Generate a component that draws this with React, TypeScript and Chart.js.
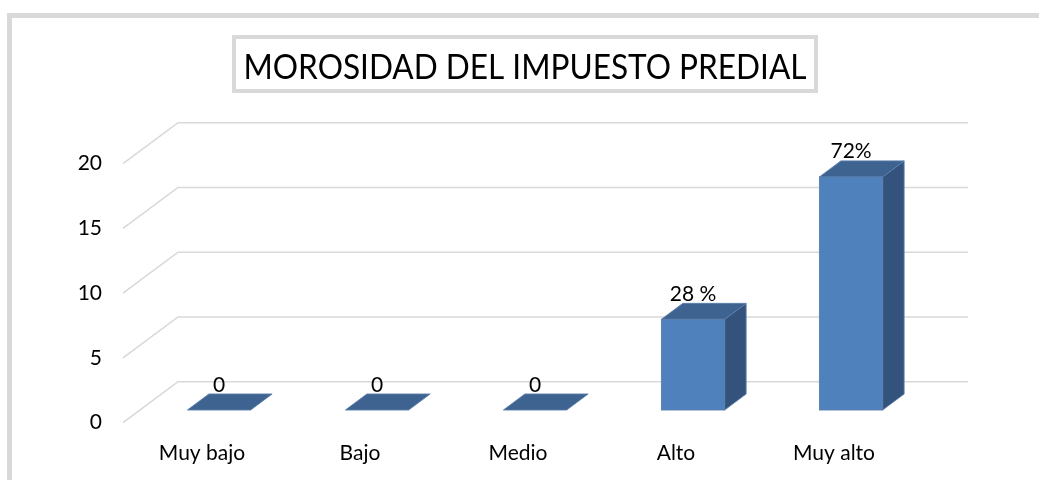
import React, { useEffect, useRef } from "react";
import { Chart, registerables } from "chart.js";
Chart.register(...registerables);

const CATEGORIES = ["Muy bajo", "Bajo", "Medio", "Alto", "Muy alto"];
const VALUES = [0, 0, 0, 7, 18];
const VALUE_LABELS = ["0", "0", "0", "28 %", "72%"];
const Y_TICKS = [0, 5, 10, 15, 20];
const TITLE = "MOROSIDAD DEL IMPUESTO PREDIAL";

const FONT = "Lato, 'Open Sans', sans-serif";
const DEPTH_DX = 55;
const DEPTH_DY = -41;
const BAR_T0 = 0.31;
const BAR_T1 = 0.7;
const GRID = "#d9d9d9";
const FRONT = "#4f81bd";
const TOP = "#3f6391";
const SIDE = "#34537c";

const box3d = {
  id: "box3d",
  beforeDraw(chart: any) {
    const ctx = chart.ctx;
    ctx.save();
    ctx.fillStyle = "#fff";
    ctx.fillRect(0, 0, chart.width, chart.height);
    ctx.strokeStyle = GRID;
    ctx.lineWidth = 5;
    ctx.strokeRect(9.5, 15.5, 1200, 700);
    // title box
    ctx.lineWidth = 4;
    ctx.strokeRect(234, 37, 582, 54);
    ctx.fillStyle = "#000";
    ctx.font = `35px ${FONT}`;
    ctx.textAlign = "center";
    ctx.textBaseline = "alphabetic";
    ctx.fillText(TITLE, 525, 78.5, 563);
    ctx.restore();
  },
  beforeDatasetsDraw(chart: any) {
    const ctx = chart.ctx;
    const ys = chart.scales.y;
    const { left, right } = chart.chartArea;
    ctx.save();
    ctx.strokeStyle = GRID;
    ctx.lineWidth = 1.6;
    Y_TICKS.forEach((v) => {
      const py = ys.getPixelForValue(v);
      ctx.beginPath();
      ctx.moveTo(left, py);
      ctx.lineTo(left + DEPTH_DX, py + DEPTH_DY);
      ctx.lineTo(right + DEPTH_DX, py + DEPTH_DY);
      ctx.stroke();
    });
    ctx.restore();
  },
  afterDatasetsDraw(chart: any) {
    const ctx = chart.ctx;
    const meta = chart.getDatasetMeta(0);
    const ox = BAR_T0 * DEPTH_DX;
    const oy = BAR_T0 * DEPTH_DY;
    const dx = (BAR_T1 - BAR_T0) * DEPTH_DX;
    const dy = (BAR_T1 - BAR_T0) * DEPTH_DY;
    ctx.save();
    meta.data.forEach((el: any, i: number) => {
      const { x, y, base, width } = el.getProps(["x", "y", "base", "width"], true);
      const xl = x - width / 2 + ox;
      const xr = x + width / 2 + ox;
      const yt = y + oy;
      const yb = base + oy;
      ctx.lineWidth = 1;
      ctx.strokeStyle = "rgba(90,125,170,0.9)";
      if (yb - yt > 0.5) {
        ctx.fillStyle = SIDE;
        ctx.beginPath();
        ctx.moveTo(xr, yt);
        ctx.lineTo(xr + dx, yt + dy);
        ctx.lineTo(xr + dx, yb + dy);
        ctx.lineTo(xr, yb);
        ctx.closePath();
        ctx.fill();
        ctx.stroke();
      }
      ctx.fillStyle = TOP;
      ctx.beginPath();
      ctx.moveTo(xl, yt);
      ctx.lineTo(xr, yt);
      ctx.lineTo(xr + dx, yt + dy);
      ctx.lineTo(xl + dx, yt + dy);
      ctx.closePath();
      ctx.fill();
      ctx.stroke();
      if (yb - yt > 0.5) {
        ctx.fillStyle = FRONT;
        ctx.fillRect(xl, yt, xr - xl, yb - yt);
        ctx.strokeRect(xl, yt, xr - xl, yb - yt);
      }
      ctx.fillStyle = "#000";
      ctx.font = `21px ${FONT}`;
      ctx.textAlign = "center";
      ctx.textBaseline = "alphabetic";
      ctx.fillText(VALUE_LABELS[i], (xl + xr) / 2, yt + dy - 2.5);
    });
    ctx.restore();
  },
};

export default function App() {
  const ref = useRef<HTMLCanvasElement>(null);
  useEffect(() => {
    if (!ref.current) return;
    const chart = new Chart(ref.current, {
      type: "bar",
      data: {
        labels: CATEGORIES,
        datasets: [
          {
            data: VALUES,
            backgroundColor: "rgba(0,0,0,0)",
            borderWidth: 0,
            barPercentage: 0.4,
            categoryPercentage: 1,
          },
        ],
      },
      options: {
        responsive: false,
        animation: false,
        events: [],
        layout: { padding: { left: 43, right: 126, top: 163.7, bottom: 7.3 } },
        plugins: { legend: { display: false }, title: { display: false }, tooltip: { enabled: false } },
        scales: {
          x: {
            grid: { display: false, drawTicks: false },
            border: { display: false },
            ticks: { color: "#000", font: { family: FONT, size: 21 }, padding: 18, maxRotation: 0, autoSkip: false },
            afterFit: (s: any) => { s.height = 50; },
          },
          y: {
            min: 0,
            max: 20,
            grid: { display: false, drawTicks: false },
            border: { display: false },
            ticks: { stepSize: 5, color: "#000", font: { family: FONT, size: 21 }, padding: 21 },
            afterFit: (s: any) => { s.width = 80; },
          },
        },
      },
      plugins: [box3d],
    });
    return () => chart.destroy();
  }, []);
  return (
    <div style={{ position: "fixed", left: 0, top: 0, width: 1039, height: 480, background: "#fff" }}>
      <canvas ref={ref} width={1039} height={480} style={{ display: "block" }} />
    </div>
  );
}
